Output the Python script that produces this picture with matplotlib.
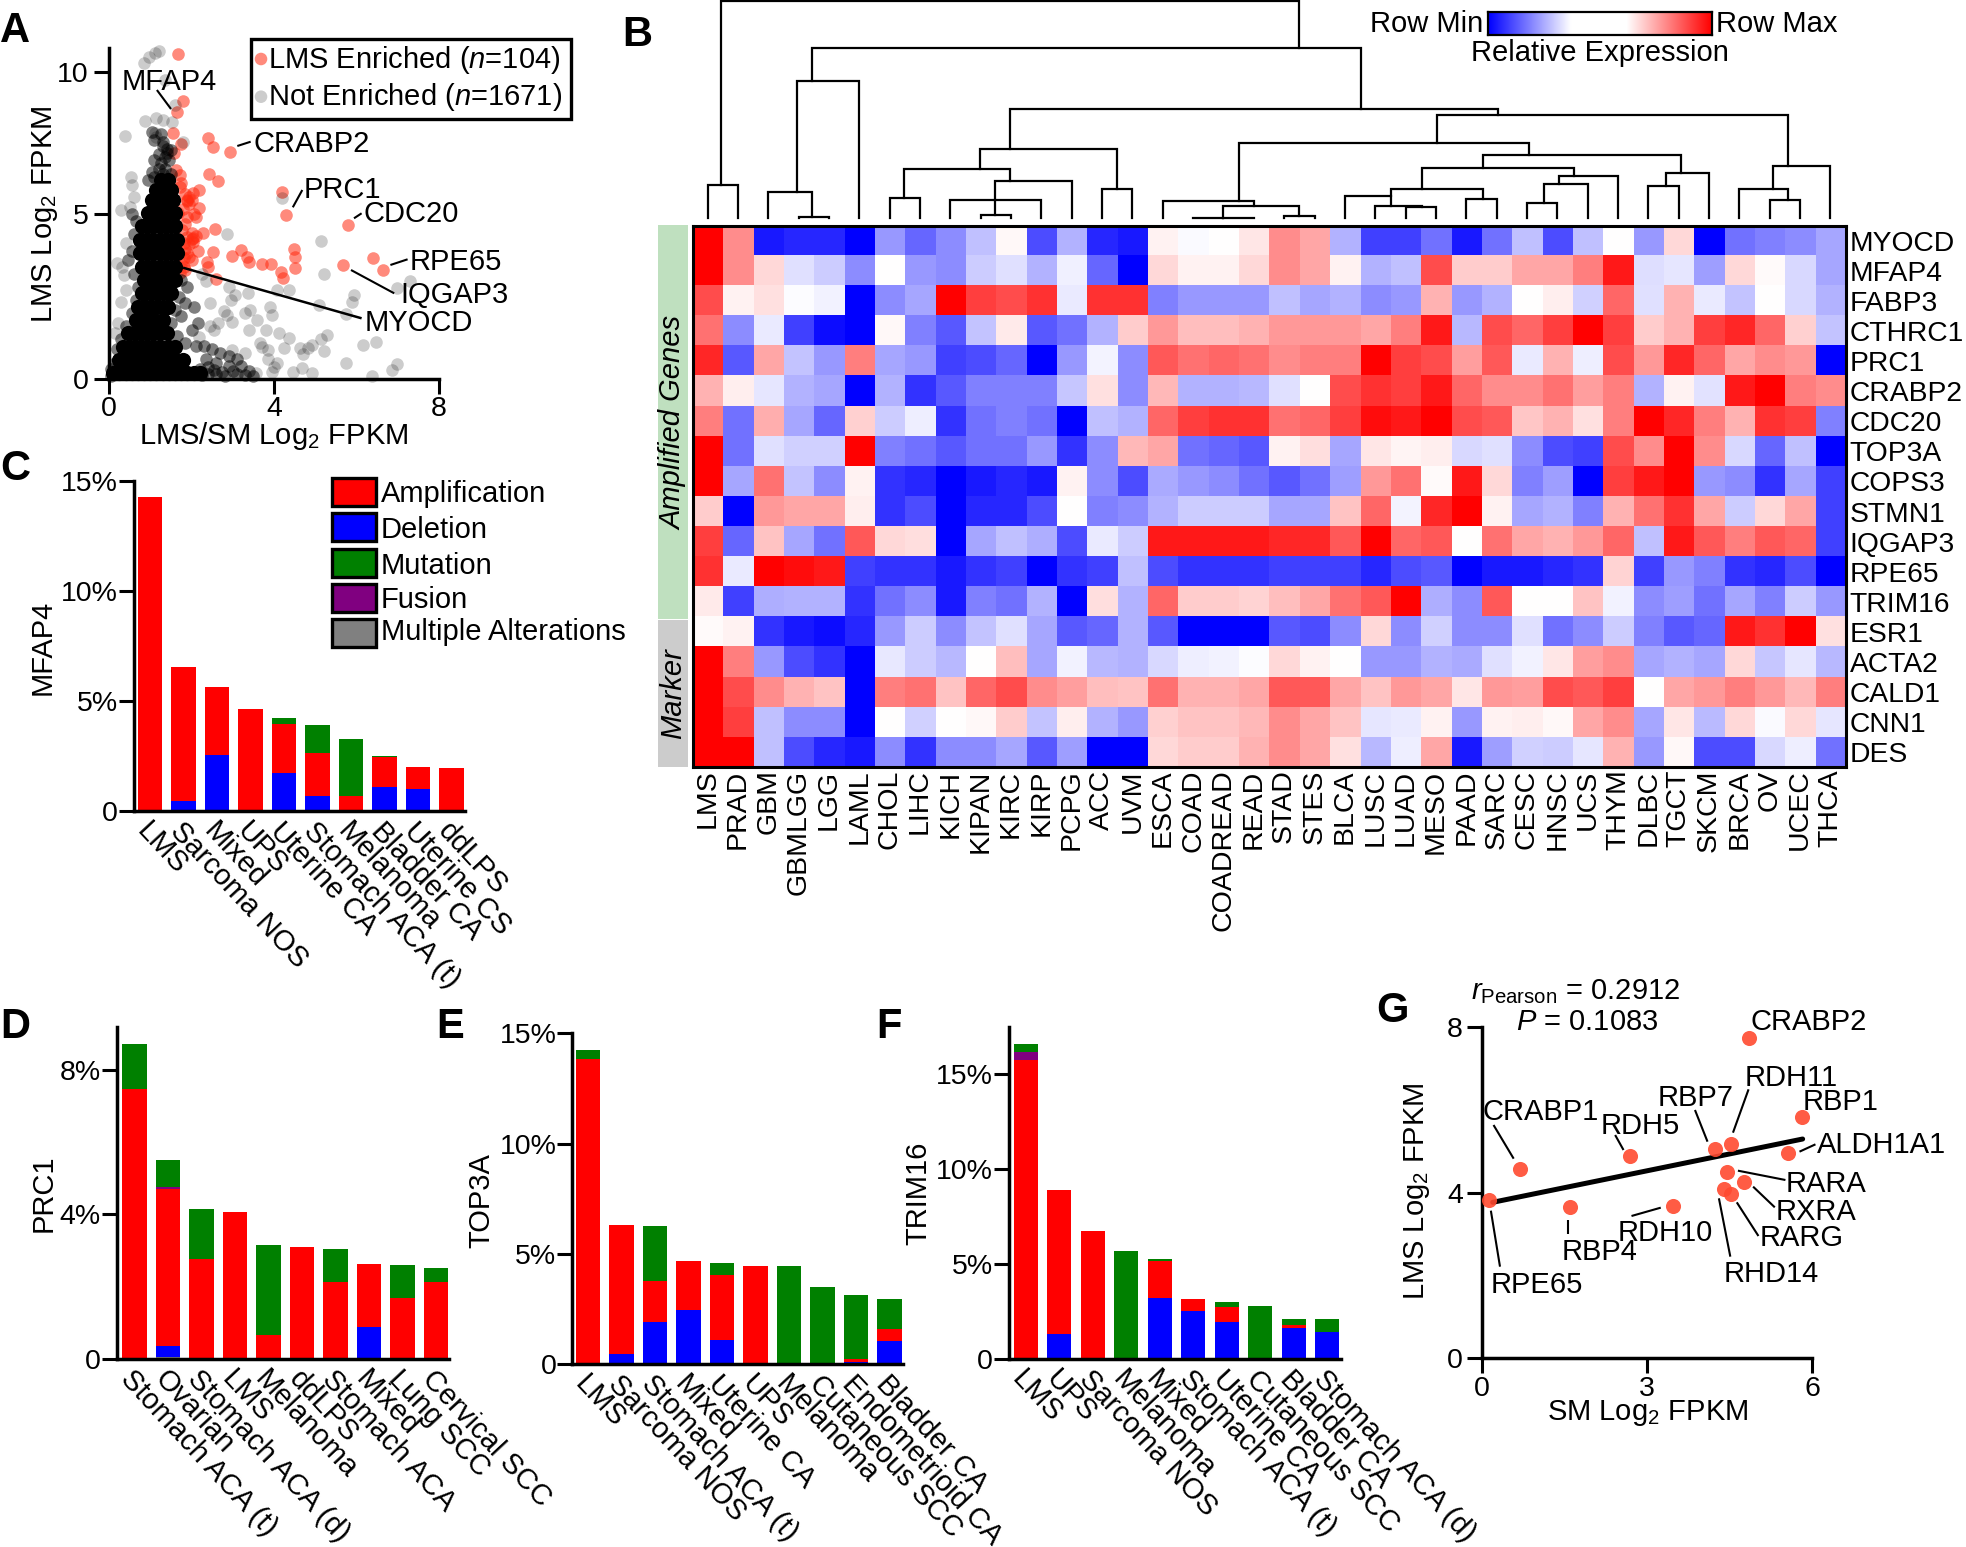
import numpy as np
import matplotlib
matplotlib.use('Agg')
import matplotlib.pyplot as plt
from matplotlib.colors import LinearSegmentedColormap
from matplotlib.patches import Rectangle
from matplotlib.transforms import ScaledTranslation

plt.rcParams['font.family'] = ['Liberation Sans', 'DejaVu Sans']
plt.rcParams['mathtext.fontset'] = 'custom'
plt.rcParams['mathtext.rm'] = 'Liberation Sans'
plt.rcParams['mathtext.it'] = 'Liberation Sans:italic'
plt.rcParams['mathtext.bf'] = 'Liberation Sans:bold'

W, H = 1966, 1547
FS = 21

# ---- panel A, values ----
red_x = [1.67, 1.79, 1.65, 1.55, 1.74, 2.39, 2.51, 2.93, 1.58, 1.62, 1.72, 2.42, 2.64, 4.20, 4.30, 5.80,
         2.18, 2.04, 1.90, 2.00, 2.18, 2.11, 1.88, 2.58, 2.27, 2.04, 1.90, 2.00, 2.51, 3.20, 2.97, 3.39,
         3.34, 2.37, 2.39, 3.72, 3.93, 4.16, 4.22, 4.48, 4.50, 4.52, 5.67, 6.40, 6.64, 2.60, 1.90, 1.81,
         2.00, 1.81, 1.72, 1.72, 1.67, 1.76, 1.81, 2.04,
         1.85, 1.95, 2.05, 1.85, 1.95, 2.10, 1.85, 1.95, 1.75, 1.80, 1.75, 1.85, 2.15, 1.95, 1.90, 2.00]
red_y = [10.62, 8.97, 8.60, 7.86, 7.48, 7.69, 7.37, 7.17, 7.14, 6.55, 6.38, 6.43, 6.18, 5.79, 4.98, 4.68,
         5.85, 5.76, 5.50, 5.50, 5.21, 4.93, 4.93, 4.54, 4.42, 4.27, 4.32, 4.42, 3.85, 3.92, 3.74, 3.56,
         3.69, 3.56, 3.41, 3.48, 3.48, 3.26, 3.06, 3.94, 3.69, 3.38, 3.45, 3.66, 3.31, 3.03, 3.82, 3.66,
         3.61, 3.41, 3.21, 5.97, 5.03, 4.52, 4.12, 4.17,
         5.70, 5.35, 5.00, 4.70, 4.10, 4.35, 3.95, 3.70, 6.10, 5.20, 3.50, 3.30, 3.90, 5.60, 5.45, 4.25]

sparse_x = [1.21, 1.11, 0.97, 0.86, 1.35, 1.61, 0.88, 1.14, 1.30, 1.53, 0.39, 1.11, 1.14, 1.79, 4.20, 2.87,
            5.13, 5.22, 0.53, 0.56, 0.60, 0.28, 0.51, 0.42, 0.19, 0.32, 0.37, 6.99, 7.30, 5.94, 5.89, 5.10,
            5.75, 6.15, 6.47, 5.75, 6.99, 6.87, 6.38, 5.29, 5.15, 4.92, 5.20, 4.83, 4.64, 4.36, 4.13, 4.24,
            3.85, 3.71, 3.80, 3.39, 3.59, 3.90, 3.94, 3.43, 3.30, 2.64, 2.97, 2.78, 2.46, 3.37, 3.06, 4.08,
            4.36, 2.92, 2.36, 4.67, 4.92, 4.45, 3.94, 4.08, 3.57, 2.97, 3.29, 2.55, 2.18, 0.14, 0.23, 0.28,
            0.42, 4.00, 4.70, 3.85, 3.65, 2.85, 2.45, 2.25, 2.95]
sparse_y = [10.74, 10.64, 10.50, 10.32, 9.71, 8.83, 8.28, 8.36, 8.30, 8.24, 7.75, 7.84, 7.70, 7.55, 5.56, 4.40,
            4.20, 3.19, 6.32, 6.03, 5.62, 5.15, 5.25, 4.12, 3.51, 3.41, 3.16, 2.75, 2.96, 2.55, 2.35, 2.25,
            1.97, 1.03, 1.11, 0.50, 0.46, 0.27, 0.09, 1.34, 1.20, 1.03, 0.86, 0.93, 0.93, 1.23, 1.39, 0.93,
            0.88, 0.98, 1.49, 1.49, 1.79, 2.20, 1.94, 2.10, 2.00, 1.69, 1.74, 2.05, 2.30, 2.60, 2.55, 2.70,
            2.70, 2.80, 2.96, 0.32, 0.17, 0.22, 0.22, 0.48, 0.19, 0.88, 0.78, 1.49, 1.29, 1.39, 1.69, 2.35,
            2.70, 0.35, 0.75, 0.60, 1.10, 1.95, 1.60, 3.20, 2.40]

halo_x = [1.30, 1.40, 1.50, 1.20, 1.35, 1.10, 1.25, 1.45, 1.20, 1.35, 1.05, 1.30, 1.10, 0.95, 1.50, 1.10, 1.30,
          0.55, 0.65, 0.60, 0.55, 0.45, 0.60, 0.70, 0.65, 0.55, 0.40, 0.30, 0.20, 0.15, 0.05, 0.05,
          1.75, 1.90, 1.70, 1.85, 2.05, 1.60, 1.75, 1.50, 2.15, 2.00, 1.65, 1.85, 2.10, 2.30, 2.50, 2.70, 2.90,
          3.10, 2.35, 2.60, 2.90, 3.20, 3.40, 3.50, 3.10, 2.20, 2.40,
          2.40, 2.60, 2.80, 3.00, 2.25, 2.55, 2.75, 3.30, 1.05, 1.25, 1.40]
halo_y = [7.40, 7.30, 7.25, 7.10, 7.00, 6.90, 6.80, 6.90, 6.60, 6.60, 6.50, 6.40, 6.30, 6.20, 6.40, 7.60, 7.55,
          5.00, 4.80, 4.40, 3.90, 3.60, 3.20, 2.80, 2.40, 2.00, 1.60, 1.20, 0.90, 0.50, 0.30, 0.10,
          3.00, 2.80, 2.50, 2.30, 2.20, 2.10, 1.90, 1.70, 1.70, 1.50, 1.30, 1.10, 1.00, 1.00, 0.90, 0.80, 0.70,
          0.60, 0.60, 0.50, 0.40, 0.40, 0.25, 0.10, 0.15, 0.30, 0.35,
          0.15, 0.15, 0.10, 0.25, 0.12, 0.28, 0.22, 0.12, 7.90, 7.80, 7.15]

core_rows_y = [6.20, 5.85, 5.50, 5.03, 4.63, 4.22, 3.82, 3.41, 3.01, 2.60, 2.20, 1.79, 1.39, 0.98, 0.58, 0.17]
core_rows_x = [[1.25, 1.42],
               [1.15, 1.30, 1.50],
               [1.05, 1.20, 1.35, 1.55],
               [0.95, 1.10, 1.25, 1.40, 1.60],
               [0.80, 0.95, 1.10, 1.25, 1.40, 1.60],
               [0.75, 0.90, 1.05, 1.20, 1.35, 1.50, 1.65],
               [0.75, 0.90, 1.05, 1.20, 1.35, 1.50, 1.65],
               [0.80, 0.95, 1.10, 1.25, 1.40, 1.60],
               [0.85, 1.00, 1.15, 1.30, 1.50, 1.60],
               [0.80, 0.90, 1.05, 1.20, 1.40, 1.50],
               [0.70, 0.85, 1.00, 1.15, 1.30, 1.42],
               [0.65, 0.80, 0.95, 1.10, 1.30],
               [0.45, 0.60, 0.75, 0.90, 1.05, 1.20, 1.40],
               [0.35, 0.50, 0.65, 0.80, 0.95, 1.10, 1.25, 1.45, 1.60],
               [0.25, 0.40, 0.55, 0.70, 0.85, 1.00, 1.15, 1.30, 1.45, 1.60, 1.80],
               [0.10, 0.25, 0.40, 0.55, 0.70, 0.85, 1.00, 1.15, 1.30, 1.45, 1.60, 1.75, 1.90, 2.05, 2.20]]

# ---- panel B ----
tumor_types = ['LMS', 'PRAD', 'GBM', 'GBMLGG', 'LGG', 'LAML', 'CHOL', 'LIHC', 'KICH', 'KIPAN', 'KIRC', 'KIRP',
               'PCPG', 'ACC', 'UVM', 'ESCA', 'COAD', 'COADREAD', 'READ', 'STAD', 'STES', 'BLCA', 'LUSC', 'LUAD',
               'MESO', 'PAAD', 'SARC', 'CESC', 'HNSC', 'UCS', 'THYM', 'DLBC', 'TGCT', 'SKCM', 'BRCA', 'OV',
               'UCEC', 'THCA']
genes = ['MYOCD', 'MFAP4', 'FABP3', 'CTHRC1', 'PRC1', 'CRABP2', 'CDC20', 'TOP3A', 'COPS3', 'STMN1', 'IQGAP3',
         'RPE65', 'TRIM16', 'ESR1', 'ACTA2', 'CALD1', 'CNN1', 'DES']
heat = [
 [10, 4.5, -9, -8.5, -8.5, -10, -4, -6, -4.5, -2.5, .3, -7, -3, -8.5, -9, .5, -.2, 0, 1, 4.5, 3.5, -3, -7.5, -7.5, -5.5, -9, -5.5, -2.5, -7, -2.5, 0, -4, 1.5, -10, -5.5, -5, -4.5, -3.5],
 [10, 4.5, 1.5, -1.2, -2, -4.5, 0, -4, -4.5, -2, -1.2, -3, -.6, -6, -10, 1.5, .5, .5, 1.5, 4.5, 3.5, .5, -3, -2.5, 7, 2, 2, 3.5, 3.5, 5, 9, -1.3, -1, -3.8, 1.5, .2, -1.5, -3.5],
 [7, .5, 1.2, -.1, -.5, -10, -4.5, -3.5, 10, 7.5, 7, 8, -.8, 8, 8, -5, -4, -4, -4, -2.5, -3.5, -3, -4.5, -4, 3, -4, -3, 0, .7, -1.8, 6, -1.2, 3, -.8, -2.3, 0, -1.5, -3],
 [5.5, -4.5, -.8, -7.5, -9.5, -10, .3, -5, -6.5, -2.3, .8, -6.5, -5.5, -3, 2, 4, 2.5, 2.5, 3, 4, 4, 4, 3.5, 5, 9, -2.8, 7, 6, 7.5, 10, 7.5, 2, 3, 7.5, 8.5, 6, 1.8, -2.3],
 [8.5, -6.5, 3.5, -2.3, -4, 5, -3.5, -4, -7.5, -7, -6, -10, -4, -.4, -4.5, 6.5, 5.5, 6, 5.5, 4.5, 5, 5, 10, 7.5, 7, 3.8, 6.5, -.8, 3, -.7, 7, 4, 8.5, 6, 3.5, 4.5, 4, -10],
 [3, .7, -1, -3, -3.5, -10, -3, -8, -6.5, -5, -5, -5, -2.2, 1.2, -4.5, 2.8, -3, -3, -2.8, -1.2, 0, 7, 8, 7.5, 9, 6, 4.5, 4.5, 5.5, 3.8, 5, -3, .5, -1.1, 9, 10, 5, 4.5],
 [5, -5.5, 3.2, -3.5, -6, 1.8, -2, -.7, -8, -5.5, -5, -5.5, -10, -2.5, -3, 6, 7.5, 8, 8, 5.5, 6, 7.5, 9.5, 9, 10, 7, 6.5, 2.2, 3, 1.2, 5, 10, 8.5, 5, 3, 8, 7.5, -5],
 [10, -5.5, -1.2, -1.8, -1.8, 10, -5, -5.5, -6.5, -5.5, -5.5, -4, -8, -4.5, 2.8, 3.5, -5.5, -6, -6.5, .5, 1.3, -3.5, 1, .4, .7, -1.5, -1.2, -4.5, -7, -7.5, 7, 4.5, 10, 4.5, -1.5, -6, -2.5, -10],
 [10, -3.5, 5.5, -2.3, -4.5, .5, -8, -8.5, -10, -9, -8.5, -9, .5, -4.5, -7, -3.3, -4, -4.5, -5.5, -6.5, -5.5, -3.8, 4, 5.5, .2, 9, 1.5, -5, -3.8, -10, 7.5, 9, 10, -4, -4.5, -8, -3.5, -7.5],
 [2, -10, 4, 3.5, 3.5, .7, -8, -7, -10, -8.5, -8.5, -7, 0, -5, -4.5, -3, -2, -2, -2, -3.5, -3.5, 2.3, 6, -.4, 8.5, 10, .5, -3.5, -3, -5, 3, 5.5, 8, 3.5, -2, 1.5, 3.5, -7.5],
 [7.5, -6, 2.3, -3.5, -5.5, 6.5, 1.5, 1.3, -10, -3.5, -2.5, -3.2, -7, -.8, -2, 9, 9, 9, 9, 8.5, 8.5, 6.5, 10, 6, 6.5, 0, 5.5, 3.5, 3, 4, 6, -2.5, 9, 6.5, 5, 6.5, 6, -7.5],
 [8, -.8, 10, 9.5, 9, -7.5, -8, -8, -9, -8, -7.5, -10, -8, -7.5, -2.5, -7, -8, -8, -8, -7.5, -7.5, -7.5, -8.5, -7, -6.5, -10, -9, -9, -8.5, -8, 1.7, -7.5, -4, -5, -8, -8.5, -7, -10],
 [.8, -7.5, -3.2, -3, -3, -8, -5.5, -4.5, -9, -5, -5.5, -3, -10, 1.3, -3, 6, 2, 2, 1.7, 2.5, 3.5, 5.5, 6.5, 10, -3.2, -4.5, 6.5, 0, 0, 2.3, -.5, -4.5, -3.8, -5.5, -3.5, -5, -2, -4],
 [.2, .5, -8, -9, -9.5, -8.5, -4, -2, -4.5, -2.3, -1.2, -3.5, -6.5, -6, -3, -6.5, -10, -10, -10, -6.5, -7, -4.5, 1.5, -4.5, -1.8, -4.5, -4.5, -1.2, -5.5, -4.5, -2, -5, -6.5, -6, 9, 8, 10, 1.2],
 [10, 5, -4, -7, -8, -10, -.9, -2, -2.8, 0, 2.5, -3.5, -.5, -2.8, -3, -1.5, -.7, -.5, -.1, 1.5, .5, 0, -4, -4, -3, -3.3, -1.2, -.5, 1, 3.8, 4.5, -3.5, -3, -3.5, 1.5, -2.2, -1, -2.8],
 [10, 7, 4.5, 3, 2.3, -10, 5, 5.5, 2.3, 6, 7, 4.5, 3.8, 2.5, 2.3, 5.5, 3, 3, 3.5, 6.5, 6.5, 3.5, 2.3, 4, 3.5, 1, 4, 3.8, 7, 6.5, 7.5, 0, 3.5, 4, 5, 4, 2.8, 5],
 [10, 7.5, -2.5, -4.5, -4.5, -10, 0, -1.8, 0, .3, 2, -2.3, .7, -3, -4, 1.8, 2.3, 2.3, 2.8, 4.5, 3.5, 2.3, -1, -.8, .5, -4, .5, .7, .3, 3.5, 4.5, -3.5, 1, -2.7, 1.5, -.2, 1.5, -1],
 [10, 10, -2.5, -7, -8.5, -9, -4.5, -8, -4.5, -4.5, -3.5, -6.5, -3.8, -10, -10, 1.5, 2, 2, 3, 4.5, 3.5, 1.2, -2.8, -.7, 3.5, -9, -3.8, -1.8, -2, -1, 3, -4, .3, -7, -7, -1.5, -.7, -5.5],
]

# dendrogram nodes 100, 101, ...: children (leaf column or node), height, stem position in columns
dend_left = [0, 3, 2, 102, 6, 9, 8, 105, 107, 104, 13, 109, 16, 112, 19, 113, 15, 23, 22, 21, 25, 119, 27, 122,
             123, 121, 31, 126, 125, 116, 35, 34, 131, 129, 111, 103, 100]
dend_right = [1, 4, 101, 5, 7, 10, 11, 106, 12, 108, 14, 110, 18, 17, 20, 114, 115, 24, 117, 118, 26, 120, 28, 29,
              30, 124, 32, 33, 127, 128, 36, 130, 37, 132, 133, 134, 135]
dend_height = [33, 1.3, 26, 137, 20, 3.3, 17.7, 17.7, 37.3, 49, 29.3, 69.3, 0.3, 1, 1.7, 11.7, 17, 11, 12.3, 22.3,
               19, 29, 15, 34.3, 41.7, 50, 31.7, 45, 63.3, 75, 18.3, 29, 51.7, 102.7, 109.3, 170, 216.7]
dend_pos = [0.93, 3.95, 3.44, 3.95, 6.96, 9.97, 9.97, 9.97, 10.48, 9.47, 13.99, 10.48, 17.5, 17.5, 20.0, 18.5, 18.0,
            24.03, 23.03, 23.03, 26.05, 24.04, 28.06, 28.56, 29.06, 26.05, 32.08, 32.58, 27.56, 24.54, 36.1, 35.6,
            36.1, 26.55, 22.03, 20.0, 20.0]

# ---- bar panels ----
alt_names = ['Amplification', 'Deletion', 'Mutation', 'Fusion', 'Multiple Alterations']
alt_colors = ['#ff0000', '#0000ff', '#008000', '#800080', '#808080']

c_labels = ['LMS', 'Sarcoma NOS', 'Mixed', 'UPS', 'Uterine CA', 'Stomach ACA (t)', 'Melanoma', 'Bladder CA',
            'Uterine CS', 'ddLPS']
c_del = [0, .47, 2.53, 0, 1.71, .68, 0, 1.08, 1.02, 0]
c_amp = [14.27, 6.06, 3.12, 4.62, 2.23, 1.94, .68, 1.37, .96, 1.94]
c_mut = [0, 0, 0, 0, .27, 1.29, 2.61, .05, 0, 0]

d_labels = ['Stomach ACA (t)', 'Ovarian', 'Stomach ACA (d)', 'LMS', 'Melanoma', 'ddLPS', 'Stomach ACA', 'Mixed',
            'Lung SCC', 'Cervical SCC']
d_multi = [0, .05, 0, 0, 0, 0, 0, 0, 0, 0]
d_del = [0, .31, 0, 0, 0, 0, 0, .89, 0, 0]
d_amp = [7.46, 4.33, 2.76, 4.06, .66, 3.09, 2.12, 1.73, 1.69, 2.12]
d_fus = [0, .08, 0, 0, 0, 0, 0, 0, 0, 0]
d_mut = [1.25, .74, 1.38, 0, 2.49, 0, .91, 0, .92, .38]

e_labels = ['LMS', 'Sarcoma NOS', 'Stomach ACA (t)', 'Mixed', 'Uterine CA', 'UPS', 'Melanoma', 'Cutaneous SCC',
            'Endometrioid CA', 'Bladder CA']
e_del = [0, .44, 1.91, 2.44, 1.09, 0, 0, 0, .1, 1.03]
e_amp = [13.83, 5.85, 1.86, 2.23, 2.96, 4.46, 0, 0, .11, .54]
e_mut = [.39, 0, 2.51, 0, .55, 0, 4.43, 3.48, 2.92, 1.38]

f_labels = ['LMS', 'UPS', 'Sarcoma NOS', 'Melanoma', 'Mixed', 'Stomach ACA (t)', 'Uterine CA', 'Cutaneous SCC',
            'Bladder CA', 'Stomach ACA (d)']
f_del = [0, 1.3, 0, 0, 3.22, 2.53, 1.93, 0, 1.6, 1.42]
f_amp = [15.76, 7.58, 6.73, 0, 1.91, .63, .78, 0, .18, 0]
f_fus = [.39, 0, 0, 0, 0, 0, 0, 0, 0, 0]
f_mut = [.42, 0, 0, 5.69, .12, 0, .29, 2.79, .33, .69]

# ---- panel G ----
g_genes = ['CRABP2', 'RBP1', 'ALDH1A1', 'RDH11', 'RBP7', 'RDH5', 'CRABP1', 'RARA', 'RXRA', 'RARG', 'RHD14', 'RPE65',
           'RBP4', 'RDH10']
g_x = [4.86, 5.81, 5.57, 4.53, 4.24, 2.69, .70, 4.46, 4.77, 4.53, 4.41, .14, 1.60, 3.48]
g_y = [7.75, 5.83, 4.96, 5.17, 5.06, 4.88, 4.58, 4.50, 4.26, 3.98, 4.10, 3.83, 3.66, 3.67]
g_fit_x = [.2, 5.83]
g_fit_y = [3.77, 5.30]


def px_axes(x0, y0, x1, y1):
    return fig.add_axes([x0 / W, 1 - y1 / H, (x1 - x0) / W, (y1 - y0) / H])


def style_axis(ax, lw=2.5, ticklen=10.5):
    for s in ['top', 'right']:
        ax.spines[s].set_visible(False)
    for s in ['left', 'bottom']:
        ax.spines[s].set_linewidth(lw)
    ax.patch.set_alpha(0)
    ax.tick_params(axis='both', width=2.2, length=ticklen, labelsize=20.5)


def bar_panel(x0, y0, x1, y1, first, ymax, ticks, ticklabels, labels, segs):
    ax = px_axes(x0, y0, x1, y1)
    step = 33.5
    ax.set_xlim((x0 - first) / step, (x1 - first) / step)
    ax.set_ylim(0, ymax)
    pos = np.arange(len(labels))
    bottom = np.zeros(len(labels))
    for vals, col in segs:
        ax.bar(pos, vals, 0.725, bottom=bottom, color=col, linewidth=0)
        bottom = bottom + np.array(vals)
    style_axis(ax)
    ax.set_yticks(ticks)
    ax.set_yticklabels(ticklabels)
    ax.tick_params(axis='y', pad=1)
    ax.set_xticks(pos)
    ax.set_xticklabels(labels, rotation=-47, ha='left', va='top', rotation_mode='anchor', fontsize=FS)
    ax.tick_params(axis='x', length=0, pad=4.5)
    shift = ScaledTranslation(1 / 72, 0, fig.dpi_scale_trans)
    for t in ax.get_xticklabels():
        t.set_transform(t.get_transform() + shift)
    return ax


fig = plt.figure(figsize=(W / 100, H / 100), dpi=100)
over = fig.add_axes([0, 0, 1, 1], zorder=10)
over.set_xlim(0, W)
over.set_ylim(H, 0)
over.axis('off')


def label(x, y, s, ha='left', va='center', **kw):
    kw.setdefault('fontsize', FS)
    over.text(x, y + 2.5, s, ha=ha, va=va, **kw)


def leader(x0, y0, x1, y1, lw=1.5):
    over.plot([x0, x1], [y0, y1], color='k', lw=lw, solid_capstyle='butt')


# panel letters
for s, x, y in [('A', 0, 29), ('B', 622, 32), ('C', 0, 467), ('D', 0, 1025), ('E', 436, 1025), ('F', 876, 1025),
                ('G', 1376, 1008)]:
    label(x, y, s, fontsize=30, fontweight='bold')

# ---- A ----
axa = px_axes(109, 47.7, 439, 379)
sc_in = [0, 5, 10, 15]
sc_out = [0, 164.7, 307.3, 450]
axa.set_yscale('function', functions=(lambda v: np.interp(v, sc_in, sc_out), lambda v: np.interp(v, sc_out, sc_in)))
axa.scatter(red_x, red_y, s=82, color='#ff2a10', alpha=0.55, linewidths=0, clip_on=False)
axa.scatter(sparse_x, sparse_y, s=82, color='k', alpha=0.2, linewidths=0, clip_on=False)
axa.scatter(halo_x, halo_y, s=82, color='k', alpha=0.5, linewidths=0, clip_on=False)
core_x = [v for row in core_rows_x for v in row]
core_y = [y for y, row in zip(core_rows_y, core_rows_x) for v in row]
axa.scatter(core_x, core_y, s=120, color='k', linewidths=0, clip_on=False)
axa.set_xlim(0, 8)
axa.set_ylim(0, 10.84)
axa.set_xticks([0, 4, 8])
axa.set_yticks([0, 5, 10])
axa.minorticks_off()
style_axis(axa)
axa.tick_params(axis='y', pad=4)
axa.tick_params(axis='x', pad=2)
label(45, 212, 'LMS Log$_2$ FPKM', ha='center', rotation=90)
label(274, 433, 'LMS/SM Log$_2$ FPKM', ha='center')
for s, x, y in [('MFAP4', 121.7, 79.3), ('CRABP2', 253.3, 141), ('PRC1', 304, 188), ('CDC20', 363.6, 211.7),
                ('RPE65', 409.5, 259.3), ('IQGAP3', 400, 293), ('MYOCD', 364.7, 320.7)]:
    label(x, y, s)
leader(156.9, 90, 171, 109)
leader(237.3, 146, 250.7, 141.7)
leader(292.8, 207.3, 302.3, 190)
leader(354, 218.3, 361.6, 213.3)
leader(390.4, 265, 407.6, 259.3)
leader(351, 270, 394.2, 293.3)
leader(183, 267.7, 361.6, 318.3, lw=1.8)
over.add_patch(Rectangle((250.7, 39.3), 320.7, 79.7, fill=False, ec='k', lw=2.4))
over.scatter([261, 261], [59, 96.7], s=82, color=['#ff2a10', 'k'], linewidths=0)
over.collections[-1].set_alpha([0.55, 0.2])
label(268.5, 57.5, 'LMS Enriched ($\\mathit{n}$=104)')
label(268.5, 94.7, 'Not Enriched ($\\mathit{n}$=1671)')

# ---- B ----
axh = px_axes(692.5, 225.7, 1845.5, 767.3)
axh.imshow(np.array(heat), cmap='bwr', vmin=-10, vmax=10, aspect='auto', interpolation='nearest')
axh.set_xticks(range(len(tumor_types)))
axh.set_xticklabels(tumor_types, rotation=90, fontsize=20.5)
axh.set_yticks(range(len(genes)))
axh.set_yticklabels(genes, fontsize=20.3)
axh.yaxis.tick_right()
axh.tick_params(axis='both', length=0)
axh.tick_params(axis='x', pad=1.5)
axh.tick_params(axis='y', pad=3)
for s in axh.spines.values():
    s.set_linewidth(2.2)

axd = px_axes(692.5, 1, 1845.5, 218)
axd.set_xlim(0, 38)
axd.set_ylim(0, 217)
axd.axis('off')
node_pos = {i: i + 0.5 for i in range(38)}
node_h = {i: 0 for i in range(38)}
for k in range(len(dend_left)):
    l, r, h = dend_left[k], dend_right[k], dend_height[k]
    axd.plot([node_pos[l], node_pos[l], node_pos[r], node_pos[r]], [node_h[l], h, h, node_h[r]],
             color='k', lw=1.6, solid_joinstyle='miter', clip_on=False)
    node_pos[100 + k] = dend_pos[k]
    node_h[100 + k] = h

over.add_patch(Rectangle((657.6, 225), 30.4, 393.6, color='#bfe0bf', lw=0))
over.add_patch(Rectangle((657.6, 620.4), 30.4, 146.8, color='#cccccc', lw=0))
label(673, 420, 'Amplified Genes', ha='center', rotation=90, style='italic')
label(673, 691, 'Marker', ha='center', rotation=90, style='italic')

axc = px_axes(1488, 12, 1712, 35)
grad_cmap = LinearSegmentedColormap.from_list('rowscale', [(0, '#0000ff'), (0.37, '#ffffff'), (0.62, '#ffffff'),
                                                           (1, '#ff0000')])
axc.imshow(np.linspace(0, 1, 256)[None, :], cmap=grad_cmap, aspect='auto')
axc.set_xticks([])
axc.set_yticks([])
for s in axc.spines.values():
    s.set_linewidth(1.6)
label(1483, 21, 'Row Min', ha='right')
label(1716, 21, 'Row Max')
label(1600, 50.7, 'Relative Expression', ha='center')

# ---- C to F ----
bar_panel(133.5, 480.7, 465, 811, 150, 15, [0, 5, 10, 15], ['0', '5%', '10%', '15%'], c_labels,
          [(c_del, alt_colors[1]), (c_amp, alt_colors[0]), (c_mut, alt_colors[2])])
label(43, 645, 'MFAP4', ha='center', rotation=90)
bar_panel(116.7, 1026.7, 448.7, 1358.7, 134.5, 9.2, [0, 4, 8], ['0', '4%', '8%'], d_labels,
          [(d_multi, alt_colors[4]), (d_del, alt_colors[1]), (d_amp, alt_colors[0]), (d_fus, alt_colors[3]),
           (d_mut, alt_colors[2])])
label(43.3, 1191, 'PRC1', ha='center', rotation=90)
bar_panel(572.3, 1033.3, 903, 1364, 588, 15, [0, 5, 10, 15], ['0', '5%', '10%', '15%'], e_labels,
          [(e_del, alt_colors[1]), (e_amp, alt_colors[0]), (e_mut, alt_colors[2])])
label(481.7, 1198, 'TOP3A', ha='center', rotation=90)
bar_panel(1009, 1026.7, 1341, 1358.7, 1025.7, 17.5, [0, 5, 10, 15], ['0', '5%', '10%', '15%'], f_labels,
          [(f_del, alt_colors[1]), (f_amp, alt_colors[0]), (f_fus, alt_colors[3]), (f_mut, alt_colors[2])])
label(918, 1191, 'TRIM16', ha='center', rotation=90)

# legend of panel C
for name, col, y, yt in zip(alt_names, alt_colors, [478, 513, 548.5, 584, 619], [491, 528, 563, 598, 630]):
    over.add_patch(Rectangle((332, y), 44, 28, facecolor=col, edgecolor='k', lw=2.4))
    label(381, yt, name)

# ---- G ----
axg = px_axes(1481.7, 1027.3, 1812, 1358.3)
axg.plot(g_fit_x, g_fit_y, color='k', lw=3.6, solid_capstyle='round', zorder=2)
axg.scatter(g_x, g_y, s=118, color='#ff4a30', alpha=0.9, linewidths=0, zorder=3, clip_on=False)
axg.set_xlim(0, 6)
axg.set_ylim(0, 8)
axg.set_xticks([0, 3, 6])
axg.set_yticks([0, 4, 8])
style_axis(axg)
axg.tick_params(axis='y', pad=3)
axg.tick_params(axis='x', pad=2)
label(1417.5, 1188.7, 'LMS Log$_2$ FPKM', ha='center', rotation=90)
label(1647.5, 1411, 'SM Log$_2$ FPKM', ha='center')
label(1470.6, 988.7, '$\\mathit{r}_{\\mathrm{Pearson}}$ = 0.2912')
label(1516, 1019.7, '$\\mathit{P}$ = 0.1083')
g_text_x = [1752, 1805, 1818.5, 1746.3, 1659.6, 1603, 1485, 1787.3, 1777.8, 1761.5, 1725.4, 1492.4, 1563.8, 1620]
g_text_y = [1020, 1099, 1142.7, 1075, 1096, 1123, 1110, 1181.7, 1210, 1236, 1271, 1282.3, 1250, 1230.7]
for s, x, y in zip(g_genes, g_text_x, g_text_y):
    label(x - 2, y, s)
for zx0, zy0, zx1, zy1 in [(325, 495, 378, 596), (645, 525, 667, 570), (855, 450, 888, 545), (996, 388, 955, 518),
                           (1172, 553, 1130, 575), (968, 632, 1093, 660), (1008, 680, 1065, 742),
                           (965, 727, 1022, 828), (918, 715, 948, 890), (688, 768, 765, 743), (522, 780, 522, 823),
                           (318, 752, 342, 920)]:
    leader(1370 + zx0 / 2.631, 960 + zy0 / 3, 1370 + zx1 / 2.631, 960 + zy1 / 3)

fig.savefig('out.png', dpi=100)
